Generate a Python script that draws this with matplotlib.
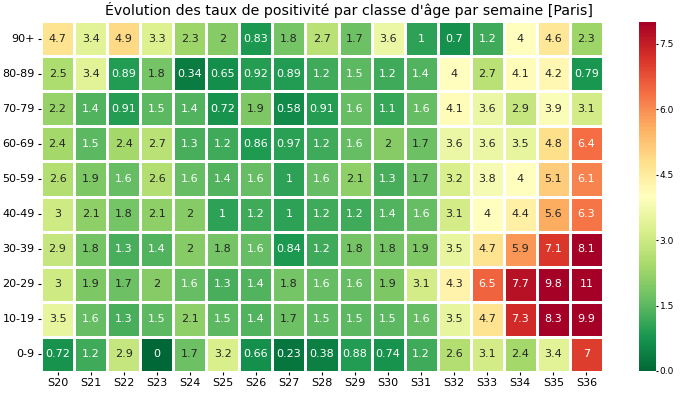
import matplotlib
matplotlib.use("Agg")
from matplotlib import pyplot as plt
import numpy as np
import pandas as pd
import seaborn as sns

# semaines et classes d'age
weeks = ["S20", "S21", "S22", "S23", "S24", "S25", "S26", "S27", "S28",
         "S29", "S30", "S31", "S32", "S33", "S34", "S35", "S36"]
ages = ["90+", "80-89", "70-79", "60-69", "50-59",
        "40-49", "30-39", "20-29", "10-19", "0-9"]

# taux de positivite (%) par classe d'age
age_90 = [4.7, 3.4, 4.9, 3.3, 2.3, 2, 0.83, 1.8, 2.7, 1.7, 3.6, 1, 0.7, 1.2, 4, 4.6, 2.3]
age_80 = [2.5, 3.4, 0.89, 1.8, 0.34, 0.65, 0.92, 0.89, 1.2, 1.5, 1.2, 1.4, 4, 2.7, 4.1, 4.2, 0.79]
age_70 = [2.2, 1.4, 0.91, 1.5, 1.4, 0.72, 1.9, 0.58, 0.91, 1.6, 1.1, 1.6, 4.1, 3.6, 2.9, 3.9, 3.1]
age_60 = [2.4, 1.5, 2.4, 2.7, 1.3, 1.2, 0.86, 0.97, 1.2, 1.6, 2, 1.7, 3.6, 3.6, 3.5, 4.8, 6.4]
age_50 = [2.6, 1.9, 1.6, 2.6, 1.6, 1.4, 1.6, 1, 1.6, 2.1, 1.3, 1.7, 3.2, 3.8, 4, 5.1, 6.1]
age_40 = [3, 2.1, 1.8, 2.1, 2, 1, 1.2, 1, 1.2, 1.2, 1.4, 1.6, 3.1, 4, 4.4, 5.6, 6.3]
age_30 = [2.9, 1.8, 1.3, 1.4, 2, 1.8, 1.6, 0.84, 1.2, 1.8, 1.8, 1.9, 3.5, 4.7, 5.9, 7.1, 8.1]
age_20 = [3, 1.9, 1.7, 2, 1.6, 1.3, 1.4, 1.8, 1.6, 1.6, 1.9, 3.1, 4.3, 6.5, 7.7, 9.8, 11]
age_10 = [3.5, 1.6, 1.3, 1.5, 2.1, 1.5, 1.4, 1.7, 1.5, 1.5, 1.5, 1.6, 3.5, 4.7, 7.3, 8.3, 9.9]
age_0 = [0.72, 1.2, 2.9, 0, 1.7, 3.2, 0.66, 0.23, 0.38, 0.88, 0.74, 1.2, 2.6, 3.1, 2.4, 3.4, 7]

df = pd.DataFrame([age_90, age_80, age_70, age_60, age_50,
                   age_40, age_30, age_20, age_10, age_0],
                  index=ages, columns=weeks)

fig = plt.figure(figsize=(6.8, 3.93), dpi=100)
ax = fig.add_axes([41/680, 1 - 372/393, (603-41)/680, (372-21)/393])
cax = fig.add_axes([639/680, 1 - 371/393, 17/680, (371-22)/393])

sns.heatmap(df, ax=ax, cbar_ax=cax, cmap="RdYlGn_r", vmin=0, vmax=8,
            annot=True, linewidths=0.8, linecolor="white",
            annot_kws={"fontsize": 8})
# titre un peu decale vers la droite comme sur l'original
ax.set_title("Évolution des taux de positivité par classe d'âge par semaine [Paris]",
             fontsize=10.2, pad=4, x=(348.5-41)/562)
ax.tick_params(axis="both", labelsize=8, length=2.5, pad=2)
ax.set_yticklabels(ages, rotation=0)
ax.set_xticklabels(weeks, rotation=0)
cax.set_yticks([0, 1.5, 3, 4.5, 6, 7.5])
cax.tick_params(labelsize=6.5, length=1.5, pad=1)

plt.savefig("out.png", dpi=100)
